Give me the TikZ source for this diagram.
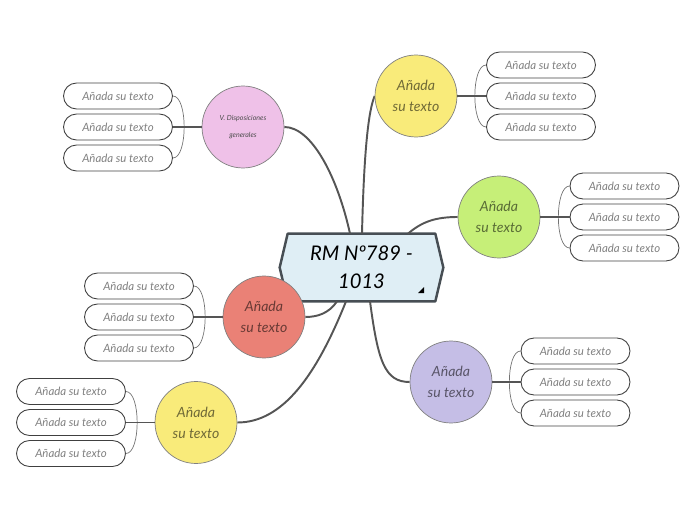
\documentclass[tikz,border=0pt]{standalone}
\usepackage{fontspec}
\setmainfont{Lato}
\usetikzlibrary{positioning, backgrounds, calc}
\definecolor{cHex}{HTML}{DFEEF5}
\definecolor{cHexLine}{HTML}{474E54}
\definecolor{cLink}{HTML}{555555}
\definecolor{cPink}{HTML}{EFC1E8}
\definecolor{cYellow}{HTML}{F9EB7A}
\definecolor{cGreen}{HTML}{C6EF78}
\definecolor{cRed}{HTML}{EA8176}
\definecolor{cPurple}{HTML}{C5BEE6}

\begin{document}
\begin{tikzpicture}[
    x=0.02cm, y=-0.02cm,
    topic/.style={
        circle, draw=black!50, line width=0.4pt, minimum size=1.64cm,
        inner sep=0pt, align=center, font=\fontsize{8}{12}\selectfont\itshape
    },
    leaf/.style={
        draw=black!75, rounded corners=0.26cm, minimum width=2.18cm,
        minimum height=0.52cm, inner sep=0pt, line width=0.5pt,
        font=\fontsize{6.5}{7}\selectfont\itshape, text=black!50
    },
    link/.style={draw=cLink, line width=1.1pt},
    stem/.style={draw=cLink, line width=0.9pt},
    brk/.style={draw=black!55, line width=0.4pt},
]
\useasboundingbox (0,0) rectangle (696,520);

% =============================================
% CENTRAL TOPIC (hexagon)
% =============================================

\node[minimum width=3.26cm, minimum height=1.34cm, inner sep=0pt, align=center,
      font=\fontsize{11.5}{16}\selectfont\itshape] (rm) at (361.5,267.5)
    {RM Nº789 -\\1013};

\begin{scope}[on background layer]
\draw[fill=cHex, draw=cHexLine, line width=1.4pt, line join=round]
    ($(rm.north west)+(8,0)$) -- ($(rm.north east)+(-8,0)$) -- (rm.east)
    -- ($(rm.south east)+(-8,0)$) -- ($(rm.south west)+(8,0)$) -- (rm.west) -- cycle;
\end{scope}
\fill[black] (424,287) -- (424,293) -- (418,293) -- cycle;

% link anchors on the hexagon
\coordinate (c1) at ($(rm.north)+(-11.5,0)$);
\coordinate (c2) at ($(rm.north)+(0.5,0)$);
\coordinate (c3) at ($(rm.north)+(46.5,0)$);
\coordinate (c4) at ($(rm.south)+(-24.5,0)$);
\coordinate (c5) at ($(rm.south)+(-15.5,0)$);
\coordinate (c6) at ($(rm.south)+(8.5,0)$);

% =============================================
% MAIN TOPICS (circles)
% =============================================

\node[topic, fill=cPink, font=\fontsize{4}{10}\selectfont\itshape, text=black!70] (pink) at (243,127)
    {V. Disposiciones\\generales};
\node[topic, fill=cYellow, text=cYellow!45!black] (ytop) at (416,96) {Añada\\su texto};
\node[topic, fill=cGreen, text=cGreen!45!black] (green) at (499,217) {Añada\\su texto};
\node[topic, fill=cRed, text=cRed!45!black] (red) at (264,317) {Añada\\su texto};
\node[topic, fill=cYellow, text=cYellow!45!black] (ybot) at (196,422.5) {Añada\\su texto};
\node[topic, fill=cPurple, text=cPurple!45!black] (purple) at (451,382) {Añada\\su texto};

% =============================================
% SUBTOPICS (3 leaves per circle)
% =============================================

% left-hand groups
\foreach \g/\lx/\ly in {pk/118/127, rd/139/317, yb/71/422.5} {
    \foreach \i/\dy in {1/-31, 2/0, 3/31}
        \node[leaf] (\g\i) at (\lx, \ly+\dy) {Añada su texto};
    \draw[brk] (\g1.east) to[out=0, in=0, distance=0.3cm] (\g3.east);
}

% right-hand groups
\foreach \g/\lx/\ly in {yt/541/96, gr/624.5/217, pu/575.5/382} {
    \foreach \i/\dy in {1/-31, 2/0, 3/31}
        \node[leaf] (\g\i) at (\lx, \ly+\dy) {Añada su texto};
    \draw[brk] (\g1.west) to[out=180, in=180, distance=0.3cm] (\g3.west);
}

% stems circle -> middle leaf
\draw[stem] (pink.west) -- (pk2.east);
\draw[stem] (red.west) -- (rd2.east);
\draw[stem] (ybot.west) -- (yb2.east);
\draw[stem] (ytop.east) -- (yt2.west);
\draw[stem] (green.east) -- (gr2.west);
\draw[stem] (purple.east) -- (pu2.west);

% =============================================
% LINKS hexagon -> circles
% =============================================

\begin{scope}[on background layer]
\draw[link] (c1) .. controls +(-12,-55) and +(28,0) .. (pink.east);
\draw[link] (c2) .. controls +(2,-85) and +(-6,14) .. (ytop.west);
\draw[link] (c3) .. controls +(14,-12) and +(-22,0) .. (green.west);
\draw[link] (c4) .. controls +(-8,12) and +(12,0) .. (red.east);
\draw[link] (c5) .. controls +(-30,75) and +(45,0) .. (ybot.east);
\draw[link] (c6) .. controls +(8,60) and +(-25,0) .. (purple.west);
\end{scope}

\end{tikzpicture}
\end{document}
